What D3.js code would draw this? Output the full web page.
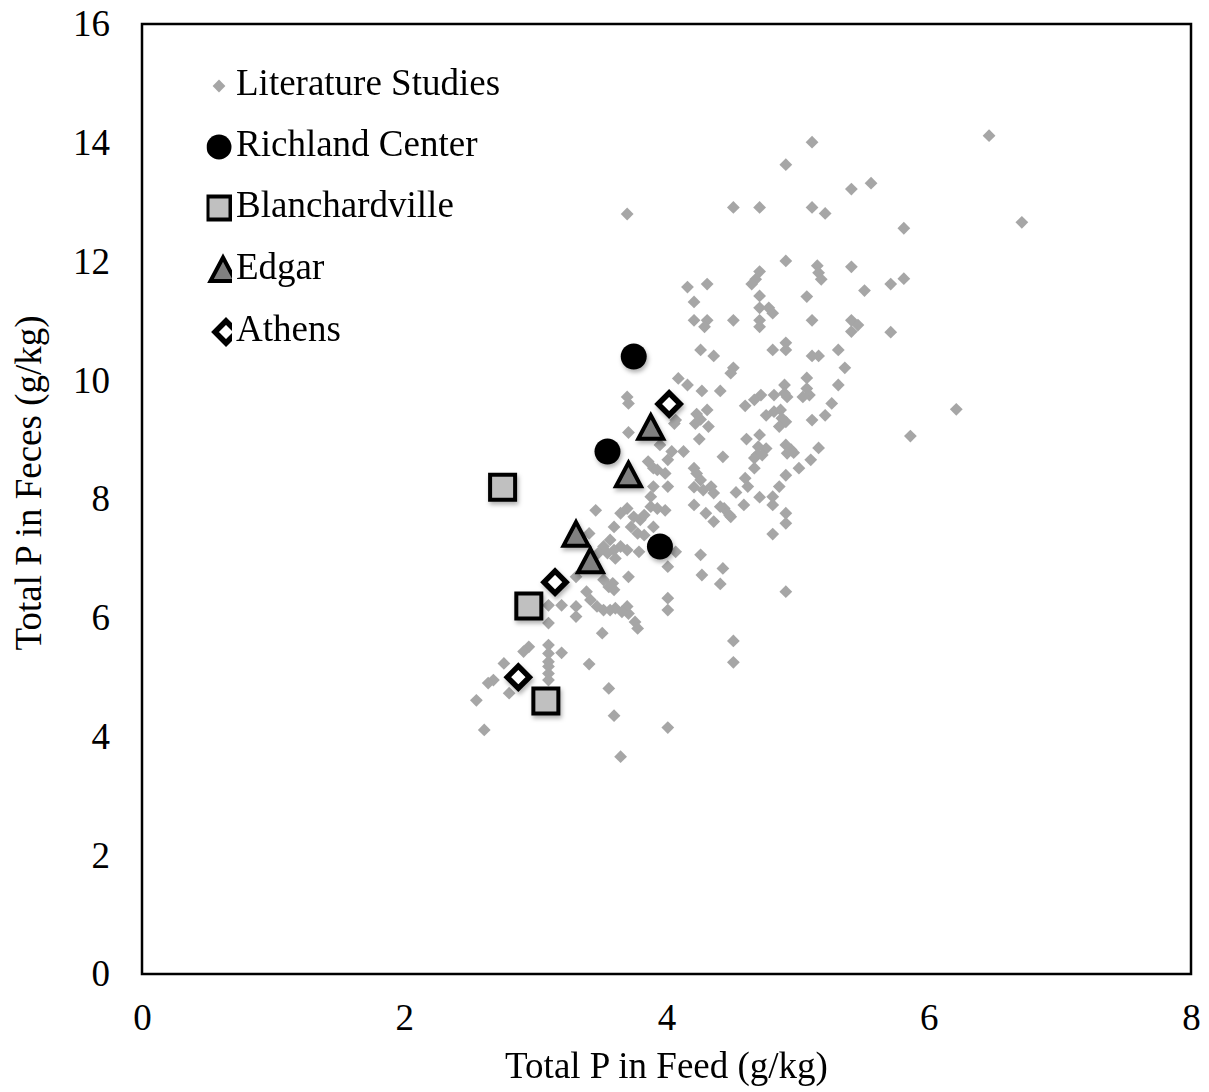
<!DOCTYPE html>
<html>
<head>
<meta charset="utf-8">
<script src="https://cdn.jsdelivr.net/npm/d3@7"></script>
<style>
  html, body { margin: 0; padding: 0; background: #fff; }
  svg text { font-family: "Liberation Serif", "Times New Roman", serif; fill: #000; }
</style>
</head>
<body>
<svg id="chart" width="1209" height="1092"></svg>
<script>
// ---------------- DATA ----------------
const xTicks = [0, 2, 4, 6, 8];
const yTicks = [0, 2, 4, 6, 8, 10, 12, 14, 16];
const xLabel = "Total P in Feed (g/kg)";
const yLabel = "Total P in Feces (g/kg)";
const seriesNames = ["Literature Studies", "Richland Center", "Blanchardville", "Edgar", "Athens"];

const litFeed = [
  5.11,6.46,4.91,5.41,5.56,4.51,4.71,5.11,5.21,5.81,6.71,3.70,4.91,5.15,5.16,5.18,5.41,4.71,4.68,4.65,
  4.31,4.16,5.81,5.71,5.51,5.07,4.71,4.21,4.71,4.78,4.81,4.31,4.29,4.21,4.51,4.71,4.71,5.11,5.41,5.46,
  5.41,5.71,4.26,4.36,4.81,4.91,4.91,5.11,5.16,5.31,5.36,4.51,4.49,5.07,4.09,4.16,4.27,4.41,4.72,4.82,
  4.90,4.90,5.07,5.09,5.31,4.60,4.67,4.92,4.76,4.82,4.87,4.88,4.91,4.86,5.04,5.26,5.21,5.11,4.61,4.71,
  4.70,4.76,4.69,4.67,4.73,4.91,4.95,4.97,4.92,5.16,5.10,5.01,4.91,4.43,4.67,4.60,4.62,4.53,4.86,4.71,
  4.81,4.81,4.59,4.44,4.49,4.91,4.91,4.81,3.70,3.71,4.23,4.26,4.22,4.32,4.31,4.25,3.71,4.06,3.95,4.04,
  4.13,4.01,3.86,3.90,3.99,4.01,3.90,3.88,4.21,4.23,4.26,4.28,4.34,4.36,4.21,4.30,4.36,4.41,4.48,3.70,
  3.65,3.75,3.88,3.93,3.99,3.80,3.73,3.60,3.90,3.78,3.83,3.65,3.60,3.55,4.26,3.93,3.46,3.83,3.57,3.52,
  3.48,3.70,3.79,4.07,3.61,4.01,3.71,3.52,3.56,3.60,3.39,3.42,3.47,3.52,3.57,3.61,3.70,3.71,3.76,3.78,
  4.01,4.01,3.51,3.31,3.31,4.27,4.43,4.41,4.07,3.41,3.31,3.59,3.10,3.20,3.10,2.95,2.91,3.10,3.10,3.10,
  3.10,3.10,3.10,3.20,3.41,2.76,2.68,2.64,2.80,2.55,2.61,3.56,3.60,4.01,3.65,4.91,4.51,4.51,6.21,5.86,
  3.66,4.21
];
const litFeces = [
  14.01,14.12,13.63,13.22,13.32,12.91,12.91,12.91,12.81,12.56,12.66,12.80,12.01,11.93,11.81,11.70,11.91,11.83,11.70,11.62,
  11.62,11.57,11.71,11.62,11.51,11.41,11.42,11.32,11.22,11.22,11.13,11.01,10.90,11.01,11.01,11.01,10.90,11.01,11.01,10.93,
  10.82,10.81,10.51,10.41,10.51,10.63,10.51,10.41,10.41,10.51,10.21,10.21,10.12,10.04,10.03,9.92,9.82,9.82,9.75,9.75,
  9.92,9.78,9.86,9.75,9.92,9.57,9.67,9.72,9.41,9.47,9.50,9.36,9.30,9.22,9.72,9.61,9.41,9.33,9.01,9.08,
  8.88,8.85,8.74,8.69,8.74,8.91,8.83,8.78,8.77,8.86,8.66,8.52,8.40,8.71,8.52,8.35,8.21,8.11,8.21,8.03,
  8.04,7.90,7.90,7.84,7.70,7.76,7.59,7.41,9.72,9.61,9.43,9.34,9.27,9.22,9.50,9.01,9.12,9.27,8.91,8.80,
  8.80,8.66,8.63,8.52,8.43,8.21,8.21,8.04,8.52,8.43,8.32,8.15,8.21,8.10,7.90,7.76,7.62,7.87,7.73,7.84,
  7.76,7.70,7.87,7.84,7.81,7.65,7.53,7.53,7.53,7.42,7.39,7.20,7.14,7.09,7.06,8.49,7.81,7.73,7.31,7.20,
  7.09,7.14,7.11,7.11,7.00,6.86,6.69,6.64,6.52,6.47,6.44,6.30,6.19,6.13,6.13,6.16,6.19,6.07,5.93,5.82,
  6.33,6.13,5.74,6.19,6.02,6.72,6.83,6.57,9.33,7.42,6.69,6.58,6.21,6.21,5.91,5.51,5.43,5.54,5.40,5.26,
  5.18,5.06,4.95,5.41,5.22,5.23,4.95,4.90,4.73,4.61,4.11,4.81,4.35,4.15,3.66,6.44,5.61,5.25,9.51,9.06,
  6.10,8.20
];

const richlandFeed  = [3.75, 3.55, 3.95];
const richlandFeces = [10.4, 8.8, 7.2];
const blanchFeed    = [2.75, 2.95, 3.08];
const blanchFeces   = [8.2, 6.2, 4.6];
const edgarFeed     = [3.88, 3.71, 3.31, 3.42];
const edgarFeces    = [9.2, 8.4, 7.4, 6.95];
const athensFeed    = [4.02, 3.15, 2.87];
const athensFeces   = [9.6, 6.6, 5.0];

// ---------------- LAYOUT ----------------
const svg = d3.select("#chart");
const mLeft = 142, mRight = 1191, mTop = 24, mBottom = 974;
const x = d3.scaleLinear().domain([0, 8]).range([mLeft, mRight]);
const y = d3.scaleLinear().domain([0, 16]).range([mBottom, mTop]);
const FONT = 37;

const defs = svg.append("defs");
const f = defs.append("filter").attr("id", "shadow")
  .attr("x", "-50%").attr("y", "-50%").attr("width", "200%").attr("height", "200%");
f.append("feDropShadow").attr("dx", 1.5).attr("dy", 3).attr("stdDeviation", 2)
  .attr("flood-color", "#000").attr("flood-opacity", 0.3);

defs.append("clipPath").attr("id", "legclip")
  .append("rect").attr("x", 206.5).attr("y", 0).attr("width", 25.5).attr("height", 400);

// axes (labels only, no ticks)
const xAxis = d3.axisBottom(x).tickValues(xTicks).tickSize(0).tickPadding(30).tickFormat(d3.format("d"));
const yAxis = d3.axisLeft(y).tickValues(yTicks).tickSize(0).tickPadding(32).tickFormat(d3.format("d"));

const gx = svg.append("g").attr("transform", `translate(0,${mBottom})`).call(xAxis);
const gy = svg.append("g").attr("transform", `translate(${mLeft},0)`).call(yAxis);
[gx, gy].forEach(g => {
  g.select(".domain").remove();
  g.selectAll("text").attr("font-size", FONT).attr("font-family", '"Liberation Serif", serif').attr("fill", "#000");
});

// Symbol path generators
const diamondPath = (h) => `M0,${-h}L${h},0L0,${h}L${-h},0Z`;
const squarePath = (s) => `M${-s/2},${-s/2}H${s/2}V${s/2}H${-s/2}Z`;
const trianglePath = `M0,-12.5L12.5,11L-12.5,11Z`;

// Literature points
svg.append("g").selectAll("path")
  .data(d3.zip(litFeed, litFeces))
  .join("path")
  .attr("d", diamondPath(6.4))
  .attr("transform", d => `translate(${x(d[0])},${y(d[1])})`)
  .attr("fill", "#a6a6a6");

// Featured series
const gF = svg.append("g").attr("filter", "url(#shadow)");

gF.append("g").selectAll("path").data(d3.zip(blanchFeed, blanchFeces)).join("path")
  .attr("d", squarePath(25))
  .attr("transform", d => `translate(${x(d[0])},${y(d[1])})`)
  .attr("fill", "#c0c0c0").attr("stroke", "#000").attr("stroke-width", 4);

gF.append("g").selectAll("path").data(d3.zip(athensFeed, athensFeces)).join("path")
  .attr("d", diamondPath(11))
  .attr("transform", d => `translate(${x(d[0])},${y(d[1])})`)
  .attr("fill", "#fff").attr("stroke", "#000").attr("stroke-width", 5.5);

gF.append("g").selectAll("path").data(d3.zip(edgarFeed, edgarFeces)).join("path")
  .attr("d", trianglePath)
  .attr("transform", d => `translate(${x(d[0])},${y(d[1])})`)
  .attr("fill", "#808080").attr("stroke", "#000").attr("stroke-width", 4);

gF.append("g").selectAll("circle").data(d3.zip(richlandFeed, richlandFeces)).join("circle")
  .attr("cx", d => x(d[0])).attr("cy", d => y(d[1])).attr("r", 13)
  .attr("fill", "#000");

// Frame
svg.append("rect").attr("x", mLeft).attr("y", mTop)
  .attr("width", mRight - mLeft).attr("height", mBottom - mTop)
  .attr("fill", "none").attr("stroke", "#000").attr("stroke-width", 2.5);

// Axis titles
svg.append("text").attr("x", (mLeft + mRight) / 2).attr("y", 1078)
  .attr("text-anchor", "middle").attr("font-size", FONT).text(xLabel);
svg.append("text").attr("transform", `translate(41,483) rotate(-90)`)
  .attr("text-anchor", "middle").attr("font-size", FONT).text(yLabel);

// Legend
const legY = [86, 147, 208, 270, 332];
const leg = svg.append("g");
const lm = leg.append("g").attr("clip-path", "url(#legclip)");
lm.append("path").attr("d", diamondPath(6.4)).attr("transform", `translate(219,${legY[0]})`).attr("fill", "#a6a6a6");
lm.append("circle").attr("cx", 219).attr("cy", legY[1]).attr("r", 12.5).attr("fill", "#000");
lm.append("path").attr("d", squarePath(23)).attr("transform", `translate(219,${legY[2]})`)
  .attr("fill", "#c0c0c0").attr("stroke", "#000").attr("stroke-width", 4);
lm.append("path").attr("d", trianglePath).attr("transform", `translate(223,${legY[3]})`)
  .attr("fill", "#808080").attr("stroke", "#000").attr("stroke-width", 4);
lm.append("path").attr("d", diamondPath(11)).attr("transform", `translate(226,${legY[4]})`)
  .attr("fill", "#fff").attr("stroke", "#000").attr("stroke-width", 5.5);

leg.selectAll("text").data(seriesNames).join("text")
  .attr("x", 236).attr("y", (d, i) => legY[i] + 9)
  .attr("font-size", FONT).text(d => d);
</script>
</body>
</html>
